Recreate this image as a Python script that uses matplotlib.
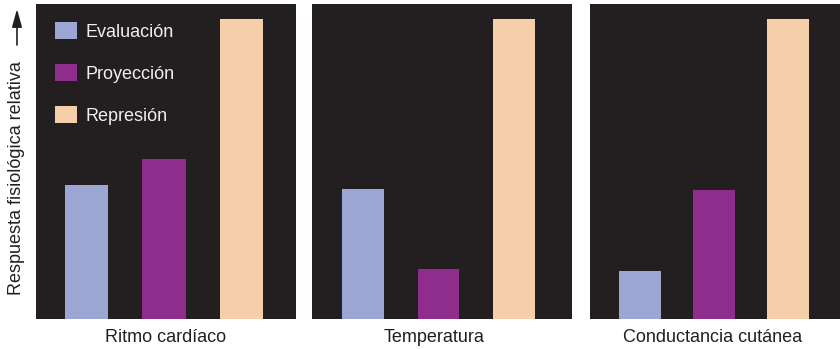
import matplotlib
matplotlib.use("Agg")
import matplotlib.pyplot as plt
from matplotlib.patches import Patch, FancyArrowPatch

plt.rcParams['font.family'] = ['Liberation Sans', 'DejaVu Sans']

panels = ["Ritmo cardíaco", "Temperatura", "Conductancia cutánea"]
series = ["Evaluación", "Proyección", "Represión"]
evaluacion = [44.7, 43.3, 16.0]
proyeccion = [53.3, 16.7, 43.0]
represion = [100.0, 100.0, 100.0]
colors = ["#9ca6d2", "#8e2d8b", "#f4cfa9"]
bg = "#231f20"
txt = "#231f20"

W, H = 840, 349
fig = plt.figure(figsize=(W / 100, H / 100), dpi=100)

lefts = [36, 312, 590]
widths = [260, 260, 250]
first_c = [50.5, 51.0, 50.0]
spacings = [77.5, 75.5, 74.0]
label_x = [0.5, 0.471, 0.49]
bottom_px, top_px = 319, 4

for i, name in enumerate(panels):
    ax = fig.add_axes([lefts[i] / W, (H - bottom_px) / H, widths[i] / W, (bottom_px - top_px) / H])
    ax.set_facecolor(bg)
    vals = [evaluacion[i], proyeccion[i], represion[i]]
    xs = [0, 1, 2]
    ax.bar(xs, vals, width=0.555, color=colors)
    ax.set_xlim(-first_c[i] / spacings[i], (widths[i] - first_c[i]) / spacings[i])
    ax.set_ylim(0, 105)
    ax.set_xticks([])
    ax.set_yticks([])
    for s in ax.spines.values():
        s.set_visible(False)
    ax.set_xlabel(name, fontsize=13, color=txt)
    ax.xaxis.set_label_coords(label_x[i], -0.033, transform=ax.transAxes)
    ax.xaxis.label.set_verticalalignment('top')
    if i == 0:
        handles = [Patch(facecolor=c, edgecolor='none') for c in colors]
        ax.legend(handles, series, loc='upper left', bbox_to_anchor=(19 / 260, 1 - 18 / 315),
                  frameon=False, fontsize=13, labelcolor='#f0f0f0',
                  handlelength=1.22, handleheight=1.05, handletextpad=0.45,
                  labelspacing=1.3, borderpad=0, borderaxespad=0)

fig.text(17 / W, 1 - 178 / H, "Respuesta fisiológica relativa", rotation=90,
         ha='center', va='center', fontsize=13, color=txt)
fig.add_artist(FancyArrowPatch((17 / W, 1 - 45 / H), (17 / W, 1 - 9 / H),
                               transform=fig.transFigure,
                               arrowstyle='-|>,head_length=0.9,head_width=0.25',
                               mutation_scale=12, color=txt, lw=1.2, shrinkA=0, shrinkB=0))

fig.savefig("out.png", dpi=100, facecolor='white')
